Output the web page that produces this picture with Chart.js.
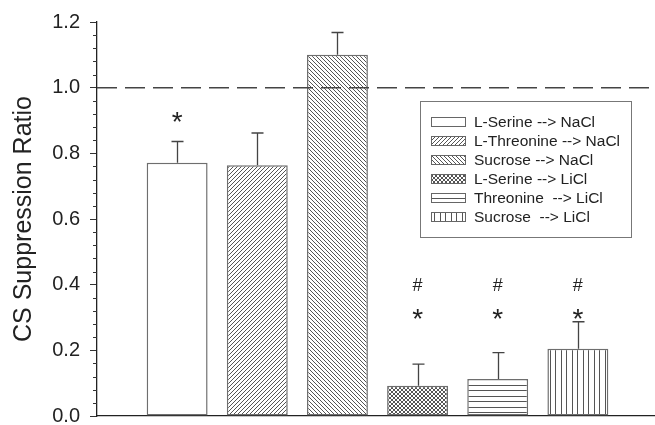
<!DOCTYPE html>
<html>
<head>
<meta charset="utf-8">
<script src="https://cdn.jsdelivr.net/npm/chart.js@4/dist/chart.umd.min.js"></script>
<style>
  html, body { margin: 0; padding: 0; background: #fff; }
  canvas { display: block; }
</style>
</head>
<body>
<canvas id="chart" width="655" height="425"></canvas>
<script>
// Groups (conditioned flavour --> injection) and their results
const groups = ['L-Serine --> NaCl', 'L-Threonine --> NaCl', 'Sucrose --> NaCl',
                'L-Serine --> LiCl', 'Threonine  --> LiCl', 'Sucrose  --> LiCl'];
const groupPos = [1, 2, 3, 4, 5, 6];
const ratios = [0.771, 0.764, 1.100, 0.092, 0.113, 0.205];
const sems = [0.065, 0.098, 0.068, 0.066, 0.080, 0.082];
// significance marks and the level at which each is written
const starLevel = [0.918, null, null, 0.319, 0.319, 0.319];
const hashLevel = [null, null, null, 0.400, 0.400, 0.400];
const referenceLevel = 1.0;
const yMin = 0, yMax = 1.2, yStep = 0.2, yMinorStep = 0.04;

const INK = '#555';

function tile(w, h, draw) {
  const c = document.createElement('canvas');
  c.width = w; c.height = h;
  const g = c.getContext('2d');
  g.fillStyle = '#fff';
  g.fillRect(0, 0, w, h);
  g.fillStyle = INK;
  draw(g);
  return document.getElementById('chart').getContext('2d').createPattern(c, 'repeat');
}
const fills = [
  '#ffffff',
  tile(4, 4, g => { for (let i = 0; i < 4; i++) g.fillRect(i, 3 - i, 1, 1); }),
  tile(4, 4, g => { for (let i = 0; i < 4; i++) g.fillRect(i, i, 1, 1); }),
  tile(4, 4, g => { for (let i = 0; i < 4; i++) { g.fillRect(i, i, 1, 1); g.fillRect(i, 3 - i, 1, 1); } }),
  tile(11, 11, g => { g.fillRect(0, 0, 11, 1); g.fillRect(0, 5, 11, 1); }),
  tile(11, 11, g => { g.fillRect(0, 0, 1, 11); g.fillRect(5, 0, 1, 11); })
];

// minor ticks, reference line, error bars, marks and the key
const extras = {
  id: 'extras',
  beforeDatasetsDraw(chart) {
    const { ctx, chartArea: a, scales: { y } } = chart;
    ctx.save();
    ctx.strokeStyle = '#333';
    ctx.lineWidth = 1;
    const n = Math.round((yMax - yMin) / yMinorStep);
    for (let i = 0; i <= n; i++) {
      if (i % Math.round(yStep / yMinorStep) === 0) continue;
      const py = Math.round(y.getPixelForValue(yMin + i * yMinorStep)) + 0.5;
      ctx.beginPath();
      ctx.moveTo(a.left - 4, py);
      ctx.lineTo(a.left, py);
      ctx.stroke();
    }
    ctx.restore();
  },
  afterDatasetsDraw(chart) {
    const { ctx, chartArea: a, scales: { y } } = chart;
    const bars = chart.getDatasetMeta(0).data;
    ctx.save();
    // reference line
    const ry = y.getPixelForValue(referenceLevel);
    ctx.strokeStyle = '#444';
    ctx.lineWidth = 1.5;
    ctx.setLineDash([20, 8]);
    ctx.beginPath();
    ctx.moveTo(a.left, ry);
    ctx.lineTo(a.right, ry);
    ctx.stroke();
    ctx.setLineDash([]);
    // error bars
    ctx.strokeStyle = '#444';
    ctx.lineWidth = 1.3;
    bars.forEach((b, i) => {
      const x = Math.round(b.x) + 0.5;
      const top = y.getPixelForValue(ratios[i] + sems[i]);
      ctx.beginPath();
      ctx.moveTo(x, y.getPixelForValue(ratios[i]));
      ctx.lineTo(x, top);
      ctx.moveTo(x - 6, top);
      ctx.lineTo(x + 6, top);
      ctx.stroke();
    });
    // significance marks
    ctx.fillStyle = '#222';
    ctx.textAlign = 'center';
    ctx.textBaseline = 'alphabetic';
    bars.forEach((b, i) => {
      if (starLevel[i] !== null) {
        ctx.font = '28px Arial, "Liberation Sans", sans-serif';
        ctx.fillText('*', b.x, y.getPixelForValue(starLevel[i]) + 0.58 * 28);
      }
      if (hashLevel[i] !== null) {
        ctx.font = '18px Arial, "Liberation Sans", sans-serif';
        ctx.fillText('#', b.x, y.getPixelForValue(hashLevel[i]) + 0.36 * 18);
      }
    });
    // key
    const kx = 420, ky = 101, kw = 211, kh = 136;
    ctx.fillStyle = '#fff';
    ctx.fillRect(kx, ky, kw, kh);
    ctx.strokeStyle = '#777';
    ctx.lineWidth = 1;
    ctx.strokeRect(kx + 0.5, ky + 0.5, kw, kh);
    ctx.font = '15.5px Arial, "Liberation Sans", sans-serif';
    ctx.textAlign = 'left';
    ctx.textBaseline = 'middle';
    groups.forEach((label, i) => {
      const cy = ky + 21 + i * 19;
      ctx.fillStyle = fills[i];
      ctx.fillRect(431, cy - 4.5, 34, 9);
      ctx.strokeStyle = '#666';
      ctx.strokeRect(431.5, cy - 4.5, 34, 9);
      ctx.fillStyle = '#222';
      ctx.fillText(label, 474, cy + 1);
    });
    ctx.restore();
  }
};

new Chart(document.getElementById('chart'), {
  type: 'bar',
  data: {
    datasets: [{
      data: groupPos.map((x, i) => ({ x: x, y: ratios[i] })),
      backgroundColor: fills,
      borderColor: '#6e6e6e',
      borderWidth: 1.5,
      borderSkipped: false,
      barPercentage: 0.8,
      categoryPercentage: 1.0
    }]
  },
  options: {
    responsive: false,
    animation: false,
    devicePixelRatio: 1,
    layout: { padding: { top: 22, right: 1, bottom: 9, left: 0 } },
    plugins: { legend: { display: false }, tooltip: { enabled: false } },
    scales: {
      x: {
        type: 'linear',
        min: 0,
        max: 6.95,
        offset: false,
        ticks: { display: false },
        grid: { display: false, drawTicks: false },
        border: { display: true, color: '#222', width: 1.3 },
        afterFit(s) { s.height = 0; s.paddingLeft = 0; s.paddingRight = 0; }
      },
      y: {
        min: yMin,
        max: yMax,
        ticks: {
          stepSize: yStep,
          padding: 10,
          color: '#222',
          font: { family: 'Arial, "Liberation Sans", sans-serif', size: 20 },
          callback: v => v.toFixed(1)
        },
        grid: { drawOnChartArea: false, tickLength: 7, color: '#333' },
        border: { display: true, color: '#222', width: 1.3 },
        title: {
          display: true,
          text: 'CS Suppression Ratio',
          color: '#222',
          font: { family: 'Arial, "Liberation Sans", sans-serif', size: 25 },
          padding: { top: 9, bottom: 0 }
        },
        afterFit(s) { s.width = 97; s.paddingTop = 0; s.paddingBottom = 0; }
      }
    }
  },
  plugins: [extras]
});
</script>
</body>
</html>
